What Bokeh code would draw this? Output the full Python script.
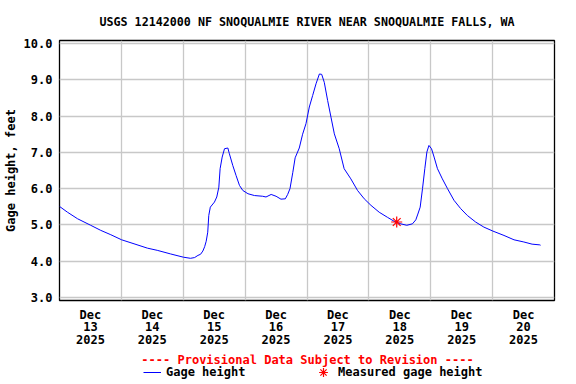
from bokeh.plotting import figure
from bokeh.models import (Range1d, FixedTicker, Legend, LegendItem, Label,
                          ColumnDataSource)
from bokeh.layouts import column
from bokeh.embed import file_html
from bokeh.resources import INLINE

# ---- data (hours since 2025-12-13 00:00, gage height in feet) ----
hours = [0.0, 3.1, 7.0, 12.1, 16.0, 19.9, 24.1, 28.9, 34.1, 37.9, 43.1, 48.1,
         50.8, 52.4, 53.7, 54.7, 55.6, 56.3, 56.9, 57.5, 57.9, 58.5, 60.1, 61.0,
         61.8, 62.3, 63.1, 64.0, 65.3, 65.9, 67.2, 68.5, 69.8, 71.1, 73.1, 75.6,
         78.8, 80.1, 82.1, 84.0, 85.9, 87.6, 88.5, 89.4, 90.5, 91.4, 93.0, 94.3,
         95.6, 96.9, 98.2, 99.5, 100.8, 101.7, 102.7, 104.0, 105.3, 106.6, 108.5,
         110.4, 113.0, 115.6, 118.2, 120.8, 124.0, 127.2, 129.8, 132.4, 134.7,
         136.9, 138.2, 139.0, 139.9, 140.8, 141.7, 142.5, 143.3, 144.3, 145.3,
         146.6, 148.5, 150.5, 153.0, 155.6, 158.2, 161.4, 164.6, 168.1, 172.4,
         176.3, 180.1, 183.3, 186.3, 186.6]
gage_height = [5.51, 5.35, 5.17, 4.99, 4.85, 4.73, 4.59, 4.48, 4.36, 4.30, 4.20, 4.11,
               4.08, 4.10, 4.16, 4.19, 4.28, 4.40, 4.55, 4.80, 5.26, 5.49, 5.63, 5.77,
               6.04, 6.55, 6.87, 7.10, 7.12, 6.96, 6.64, 6.36, 6.09, 5.95, 5.86, 5.81,
               5.79, 5.77, 5.84, 5.79, 5.71, 5.72, 5.84, 6.00, 6.45, 6.85, 7.12, 7.50,
               7.79, 8.25, 8.57, 8.89, 9.16, 9.15, 8.93, 8.43, 7.97, 7.51, 7.10,
               6.55, 6.27, 5.95, 5.72, 5.54, 5.35, 5.21, 5.10, 5.03, 4.99,
               5.03, 5.14, 5.30, 5.49, 6.00, 6.55, 7.01, 7.19, 7.10, 6.87,
               6.55, 6.27, 6.00, 5.68, 5.45, 5.26, 5.08, 4.94, 4.83, 4.71,
               4.59, 4.53, 4.47, 4.45, 4.44]

measured_hours = [130.8]
measured_height = [5.08]

day_ticks = [12, 36, 60, 84, 108, 132, 156, 180]
day_labels = ["Dec\n13\n2025", "Dec\n14\n2025", "Dec\n15\n2025", "Dec\n16\n2025",
              "Dec\n17\n2025", "Dec\n18\n2025", "Dec\n19\n2025", "Dec\n20\n2025"]
midnights = [24, 48, 72, 96, 120, 144, 168]
y_ticks = [3, 4, 5, 6, 7, 8, 9, 10]

title_text = "USGS 12142000 NF SNOQUALMIE RIVER NEAR SNOQUALMIE FALLS, WA"
y_title = "Gage height, feet"
provisional_text = "---- Provisional Data Subject to Revision ----"
legend_labels = ["Gage height", "Measured gage height"]

FONT = "DejaVu Sans Mono"
FS = "12px"
LINE_COLOR = "#0000ff"
STAR_COLOR = "#ff0000"

src = ColumnDataSource(dict(x=hours, y=gage_height))
msrc = ColumnDataSource(dict(x=measured_hours, y=measured_height))

p = figure(width=576, height=354, output_backend="svg", toolbar_location=None,
           x_range=Range1d(0, 192), y_range=Range1d(2.917, 10.083),
           min_border_left=58, min_border_right=22, min_border_top=40,
           min_border_bottom=54, outline_line_color="black", outline_line_width=1.3,
           background_fill_color="white", border_fill_color="white")

# title
p.title.text = title_text
p.title.align = "center"
p.title.text_font = FONT
p.title.text_font_size = "11.7px"
p.title.text_font_style = "bold"
p.title.text_color = "black"
p.title.standoff = 24

# grids
p.xgrid.ticker = FixedTicker(ticks=midnights)
p.ygrid.ticker = FixedTicker(ticks=y_ticks)
for g in (p.xgrid, p.ygrid):
    g.grid_line_color = "#c8c8c8"
    g.grid_line_width = 1.3

# axes
p.xaxis.ticker = FixedTicker(ticks=day_ticks)
p.xaxis.major_label_overrides = {t: l for t, l in zip(day_ticks, day_labels)}
p.yaxis.ticker = FixedTicker(ticks=y_ticks)
p.yaxis.major_label_overrides = {t: f"{t:.1f}" for t in y_ticks}
for ax in (p.xaxis, p.yaxis):
    ax.axis_line_color = None
    ax.major_tick_out = 0
    ax.major_tick_in = 0
    ax.minor_tick_out = 0
    ax.minor_tick_in = 0
    ax.major_label_text_font = FONT
    ax.major_label_text_font_size = FS
    ax.major_label_text_font_style = "bold"
    ax.major_label_text_color = "black"
p.xaxis.major_label_standoff = 7
p.xaxis.major_label_text_line_height = 0.9
p.yaxis.major_label_standoff = 7
p.yaxis.axis_label = y_title
p.yaxis.axis_label_standoff = 3
p.yaxis.axis_label_text_font = FONT
p.yaxis.axis_label_text_font_size = FS
p.yaxis.axis_label_text_font_style = "bold"
p.yaxis.axis_label_text_color = "black"

p.line("x", "y", source=src, line_color=LINE_COLOR, line_width=1.0)
p.scatter("x", "y", source=msrc, marker="asterisk", size=11,
          line_color=STAR_COLOR, line_width=1.2)

# ---- footer: provisional note and legend (frame aligned with the plot) ----
# its y range lies far away from the data, so the series only feed the legend keys
f = figure(width=576, height=30, output_backend="svg", toolbar_location=None,
           x_range=Range1d(0, 192), y_range=Range1d(1000, 1001),
           x_axis_type=None, y_axis_type=None, min_border=0,
           outline_line_color=None, background_fill_color="white",
           border_fill_color="white")
f.xgrid.visible = False
f.ygrid.visible = False
f.add_layout(Label(x=248, y=25, x_units="screen", y_units="screen",
                   text=provisional_text, text_align="center", text_baseline="middle",
                   text_font=FONT, text_font_size=FS, text_font_style="bold",
                   text_color=STAR_COLOR))
lr = f.line("x", "y", source=src, line_color=LINE_COLOR, line_width=1.0)
sr = f.scatter("x", "y", source=msrc, marker="asterisk", line_color=STAR_COLOR,
               line_width=1.2)

def make_legend(label, rend, loc, gw, standoff):
    return Legend(items=[LegendItem(label=label, renderers=[rend])], location=loc,
                  orientation="horizontal", glyph_width=gw, glyph_height=22,
                  label_standoff=standoff, padding=0, margin=0, spacing=0,
                  border_line_alpha=0, background_fill_alpha=0,
                  label_text_font=FONT, label_text_font_size=FS,
                  label_text_font_style="bold", label_text_color="black",
                  label_height=12)

f.add_layout(make_legend(legend_labels[0], lr, (84, 1), 18, 5))
f.add_layout(make_legend(legend_labels[1], sr, (253, 1), 22, 4))

open("out.html", "w").write(file_html(column(p, f, spacing=0), INLINE))
